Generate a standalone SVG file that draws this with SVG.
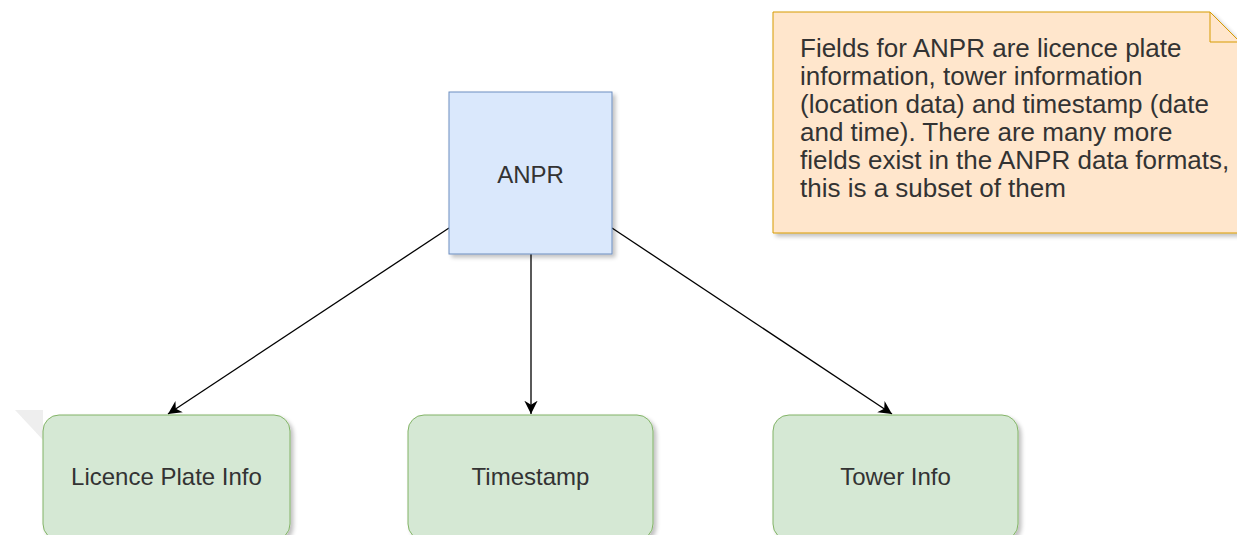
<svg xmlns="http://www.w3.org/2000/svg" width="1237" height="535" viewBox="0 0 1237 535">
<defs>
<style>
.lbl{font-family:"Liberation Sans",Arial,sans-serif;font-size:24px;fill:#333;}
.ntxt{font-family:"Liberation Sans",Arial,sans-serif;font-size:26px;fill:#333;}
.edge{stroke:#000;stroke-width:1.3;fill:none;}
.blue{fill:#dae8fc;stroke:#6c8ebf;stroke-width:1;}
.green{fill:#d5e8d4;stroke:#82b366;stroke-width:1;}
.note{fill:#ffe6cc;stroke:#d79b00;stroke-width:1;}
</style>
<filter id="sh" x="-10%" y="-10%" width="130%" height="130%">
<feGaussianBlur in="SourceAlpha" stdDeviation="2"/>
<feOffset dx="3" dy="3" result="b"/>
<feComponentTransfer><feFuncA type="linear" slope="0.25"/></feComponentTransfer>
<feMerge><feMergeNode/><feMergeNode in="SourceGraphic"/></feMerge>
</filter>
<marker id="arr" markerWidth="16" markerHeight="16" refX="10" refY="5" orient="auto" markerUnits="userSpaceOnUse" viewBox="0 0 12 10">
<path d="M0,0 L10,5 L0,10 L3,5 Z" fill="#000"/>
</marker>
</defs>
<rect width="1237" height="535" fill="#fff"/>
<polygon points="15,410 43,410 43,440" fill="#eeeeee"/>
<g id="connectors">
<line class="edge" x1="449" y1="228" x2="168" y2="414" marker-end="url(#arr)"/>
<line class="edge" x1="531" y1="254" x2="531" y2="414" marker-end="url(#arr)"/>
<line class="edge" x1="612" y1="228" x2="892" y2="414" marker-end="url(#arr)"/>
</g>
<g id="note">
<path class="note" filter="url(#sh)" d="M773,12 L1210,12 L1240,42 L1240,233 L773,233 Z"/>
<path d="M1210,12 L1210,42 L1240,42" fill="none" stroke="#d79b00" stroke-width="1"/>
<text class="ntxt">
<tspan x="800" y="57">Fields for ANPR are licence plate</tspan>
<tspan x="800" y="84.9">information, tower information</tspan>
<tspan x="800" y="112.8">(location data) and timestamp (date</tspan>
<tspan x="800" y="140.7">and time). There are many more</tspan>
<tspan x="800" y="168.6">fields exist in the ANPR data formats,</tspan>
<tspan x="800" y="196.5">this is a subset of them</tspan>
</text>
</g>
<g id="anpr">
<rect class="blue" filter="url(#sh)" x="449" y="92" width="163" height="162"/>
<text class="lbl" x="530.5" y="183" text-anchor="middle">ANPR</text>
</g>
<g id="licence">
<rect class="green" filter="url(#sh)" x="43" y="415" width="247" height="125" rx="16"/>
<text class="lbl" x="166.5" y="485" text-anchor="middle">Licence Plate Info</text>
</g>
<g id="timestamp">
<rect class="green" filter="url(#sh)" x="408" y="415" width="245" height="125" rx="16"/>
<text class="lbl" x="530.5" y="485" text-anchor="middle">Timestamp</text>
</g>
<g id="tower">
<rect class="green" filter="url(#sh)" x="773" y="415" width="245" height="125" rx="16"/>
<text class="lbl" x="895.5" y="485" text-anchor="middle">Tower Info</text>
</g>
</svg>
